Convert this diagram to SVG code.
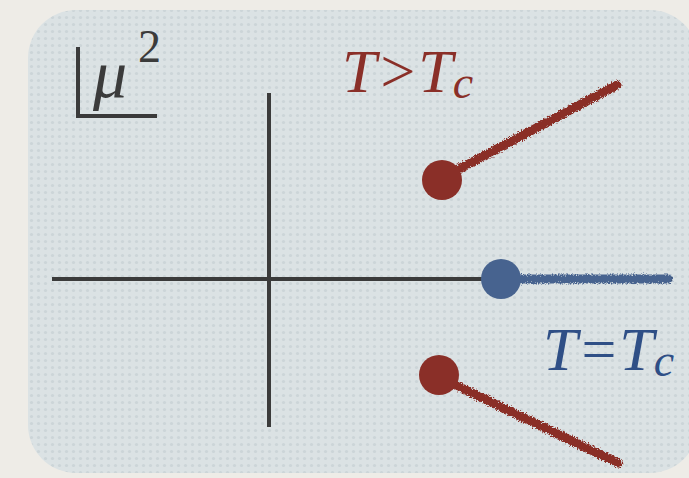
<svg xmlns="http://www.w3.org/2000/svg" width="689" height="478" viewBox="0 0 689 478">
<defs>
<pattern id="dots" width="7" height="7" patternUnits="userSpaceOnUse">
<rect width="7" height="7" fill="#dbe2e4"/>
<circle cx="3.5" cy="3.5" r="1.6" fill="#ccd5d8"/>
</pattern>
<filter id="rough" filterUnits="userSpaceOnUse" x="0" y="0" width="689" height="478">
<feTurbulence type="fractalNoise" baseFrequency="0.8" numOctaves="2" seed="3" result="n"/>
<feDisplacementMap in="SourceGraphic" in2="n" scale="6" xChannelSelector="R" yChannelSelector="G"/>
</filter>
<style>
.axis{stroke:#3b3b3b;stroke-width:4;fill:none}
.red{fill:#8a2f28}
.blue{fill:#47638f}
.rline{stroke:#8a2f28;stroke-width:9;stroke-linecap:round;fill:none}
.bline{stroke:#47638f;stroke-width:9;stroke-linecap:round;fill:none}
.lbl{font-family:"Liberation Serif","DejaVu Serif",serif;font-style:italic}
</style>
</defs>
<rect width="689" height="478" fill="#eeece7"/>
<rect x="28" y="10" width="670" height="463" rx="48" fill="url(#dots)"/>
<g id="axes">
<line class="axis" x1="52" y1="279" x2="672" y2="279"/>
<line class="axis" x1="269" y1="93" x2="269" y2="427"/>
</g>
<g id="mu-label">
<path class="axis" d="M78 47 V116 H157"/>
<text class="lbl" x="93" y="97" font-size="68" fill="#3b3b3b">μ</text>
<text x="138" y="62" font-size="46" fill="#3b3b3b" font-family="Liberation Serif,serif">2</text>
</g>
<g id="connectors">
<line class="rline" x1="448" y1="175" x2="617" y2="85" filter="url(#rough)"/>
<line class="bline" x1="506" y1="279" x2="668" y2="279" filter="url(#rough)"/>
<line class="rline" x1="445" y1="380" x2="618" y2="463" filter="url(#rough)"/>
</g>
<g id="upper">
<circle class="red" cx="442" cy="180" r="20"/>
<text class="lbl" x="342" y="92" font-size="62" fill="#8a2f28">T&gt;T<tspan font-size="46" dy="6">c</tspan></text>
</g>
<g id="critical">
<circle class="blue" cx="501" cy="279" r="20"/>
<text class="lbl" x="543" y="370" font-size="62" fill="#2f4f86">T=T<tspan font-size="46" dy="6">c</tspan></text>
</g>
<g id="lower">
<circle class="red" cx="439" cy="375" r="20"/>
</g>
</svg>
